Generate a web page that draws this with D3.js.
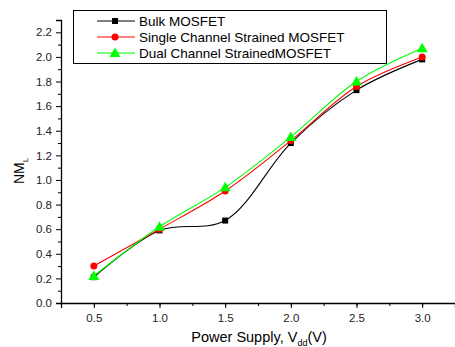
<!DOCTYPE html>
<html>
<head>
<meta charset="utf-8">
<script src="https://cdn.jsdelivr.net/npm/d3@7"></script>
<style>
  body { margin: 0; background: #fff; }
  svg { display: block; font-family: "Liberation Sans", Arial, sans-serif; }
</style>
</head>
<body>
<div id="chart"></div>
<script>
// supply voltages (V)
const vdd = [0.5, 1.0, 1.5, 2.0, 2.5, 3.0];
// NM_L values
const bulk = [0.21, 0.59, 0.67, 1.30, 1.73, 1.98];
const singleStrained = [0.30, 0.60, 0.91, 1.32, 1.76, 2.00];
const dualStrained = [0.22, 0.62, 0.94, 1.35, 1.80, 2.07];

const seriesNames = ['Bulk MOSFET', 'Single Channel Strained MOSFET', 'Dual Channel StrainedMOSFET'];
const seriesColors = ['#000000', '#ff0000', '#00ff00'];
const seriesValues = [bulk, singleStrained, dualStrained];
const markerTypes = ['square', 'circle', 'triangle'];

const xTicks = [0.5, 1.0, 1.5, 2.0, 2.5, 3.0];
const yTicks = [0.0, 0.2, 0.4, 0.6, 0.8, 1.0, 1.2, 1.4, 1.6, 1.8, 2.0, 2.2];

const width = 455, height = 347;
const margin = { top: 20, right: 0, bottom: 44, left: 61 };
const innerW = width - margin.left - margin.right;
const innerH = height - margin.top - margin.bottom;

const svg = d3.select('#chart').append('svg')
  .attr('width', width)
  .attr('height', height);

const g = svg.append('g').attr('transform', `translate(${margin.left},${margin.top})`);

const x = d3.scaleLinear().domain([0.25, 3.25]).range([0, innerW]);
const y = d3.scaleLinear().domain([0, 2.3]).range([innerH, 0]);

// minor ticks
g.append('g')
  .attr('transform', `translate(0,${innerH})`)
  .call(d3.axisBottom(x).tickValues(d3.range(0.25, 3.26, 0.25)).tickSize(3).tickFormat(''))
  .call(s => s.select('.domain').remove());
g.append('g')
  .call(d3.axisLeft(y).tickValues(d3.range(0.1, 2.3, 0.2)).tickSize(3).tickFormat(''))
  .call(s => s.select('.domain').remove());

// major axes
const xAxis = g.append('g')
  .attr('transform', `translate(0,${innerH})`)
  .call(d3.axisBottom(x).tickValues(xTicks).tickSize(5).tickPadding(6).tickFormat(d3.format('.1f')));
const yAxis = g.append('g')
  .call(d3.axisLeft(y).tickValues(yTicks).tickSize(5).tickPadding(4).tickFormat(d3.format('.1f')));

[xAxis, yAxis].forEach(a => {
  a.select('.domain').attr('stroke-width', 1.3);
  a.selectAll('text').style('font-size', '11.5px').style('fill', '#222');
});

// series lines
const line = d3.line()
  .x(d => x(d[0]))
  .y(d => y(d[1]))
  .curve(d3.curveCatmullRom.alpha(0.5));

function drawMarker(sel, type, color, cx, cy) {
  if (type === 'square') {
    sel.append('rect').attr('x', cx - 3).attr('y', cy - 3).attr('width', 6).attr('height', 6).attr('fill', color);
  } else if (type === 'circle') {
    sel.append('circle').attr('cx', cx).attr('cy', cy).attr('r', 3.5).attr('fill', color);
  } else {
    sel.append('path')
      .attr('d', `M${cx},${cy - 5.5}L${cx + 5.5},${cy + 4}L${cx - 5.5},${cy + 4}Z`)
      .attr('fill', color);
  }
}

seriesValues.forEach((vals, i) => {
  const pts = vdd.map((v, j) => [v, vals[j]]);
  g.append('path')
    .attr('d', line(pts))
    .attr('fill', 'none')
    .attr('stroke', seriesColors[i])
    .attr('stroke-width', 1.1);
});
seriesValues.forEach((vals, i) => {
  const mg = g.append('g');
  vdd.forEach((v, j) => drawMarker(mg, markerTypes[i], seriesColors[i], x(v), y(vals[j])));
});

// legend
const legend = svg.append('g');
legend.append('rect')
  .attr('x', 73.5).attr('y', 10.5).attr('width', 313).attr('height', 53)
  .attr('fill', '#fff').attr('stroke', '#000').attr('stroke-width', 1);
seriesNames.forEach((name, i) => {
  const ly = 21 + i * 16;
  legend.append('line')
    .attr('x1', 97).attr('x2', 135).attr('y1', ly).attr('y2', ly)
    .attr('stroke', seriesColors[i]).attr('stroke-width', 1.1);
  drawMarker(legend, markerTypes[i], seriesColors[i], 115, ly);
  legend.append('text')
    .attr('x', 139).attr('y', ly + 5)
    .style('font-size', '13.5px')
    .text(name);
});

// axis titles
const yTitle = svg.append('text')
  .attr('transform', `translate(24,171) rotate(-90)`)
  .attr('text-anchor', 'middle')
  .style('font-size', '14px');
yTitle.append('tspan').text('NM');
yTitle.append('tspan').attr('dy', 4).style('font-size', '8px').text('L');

const xTitle = svg.append('text')
  .attr('x', 259).attr('y', 342)
  .attr('text-anchor', 'middle')
  .style('font-size', '14.5px');
xTitle.append('tspan').text('Power Supply, V');
xTitle.append('tspan').attr('dy', 4).style('font-size', '9px').text('dd');
xTitle.append('tspan').attr('dy', -4).text('(V)');
</script>
</body>
</html>
